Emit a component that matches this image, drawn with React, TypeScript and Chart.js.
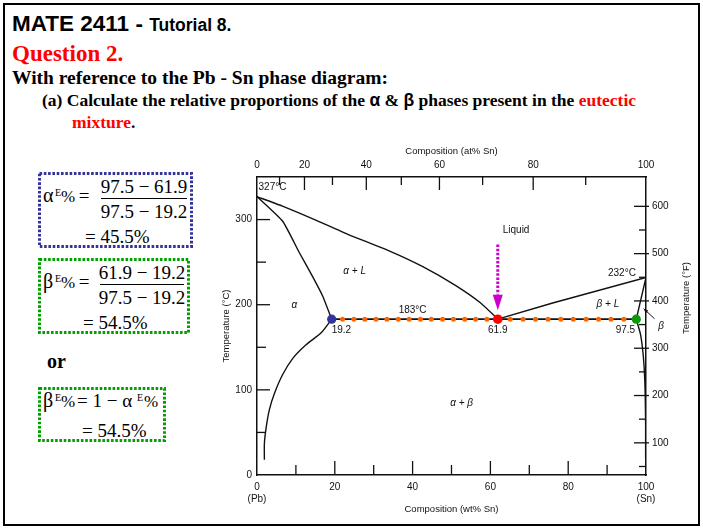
import React, { useEffect, useRef } from 'react';
import { Chart, registerables } from 'chart.js';

Chart.register(...registerables);

type Pt = [number, number];

// Pb–Sn phase boundaries: [composition (wt% Sn), temperature (°C)]
const liquidusLeft: Pt[] = [[0, 327], [6.4, 316], [14.8, 300], [23.2, 283], [34.1, 263], [42.5, 245], [50.9, 223], [57.5, 202], [61.9, 183]];
const solidusAlpha: Pt[] = [[0, 327], [6.6, 298], [10.9, 261], [14.3, 233], [16.9, 210], [19.2, 183]];
const solvusAlpha: Pt[] = [[19.2, 183], [16.5, 167], [12.6, 153], [9.2, 137], [6.6, 118], [4.5, 96], [3.2, 77], [2.4, 57], [1.9, 37], [1.9, 18]];
const liquidusRight: Pt[] = [[61.9, 183], [76, 202], [100, 232]];
const solidusBeta: Pt[] = [[100, 232], [97.5, 183]];
const solvusBeta: Pt[] = [[97.5, 183], [98.6, 165], [99.3, 140], [99.7, 110], [99.9, 60], [99.9, 20]];

// eutectic isotherm and the three compositions on it
const eutecticT = 183;
const alphaE = 19.2;
const eutecticC = 61.9;
const betaE = 97.5;
const pbMelt = 327;
const snMelt = 232;
const tieLineDots = [22.0, 24.9, 27.7, 30.6, 33.4, 36.3, 39.1, 42.0, 44.8, 47.7, 50.5, 53.4, 56.2, 59.1,
  65.1, 68.4, 71.6, 74.8, 78.1, 81.3, 84.6, 87.8, 91.0, 94.3];

// axes
const tempMin = 0;
const tempMax = 350;
const wtTickLabels = [0, 20, 40, 60, 80, 100];
const wtTickMarks = [10, 20, 30, 40, 50, 60, 70, 80, 90];
const atTicks = [0, 10, 20, 30, 40, 50, 60, 70, 80, 90, 100];
const atTickWt = [0, 5.8, 12.2, 19.4, 28.1, 37.1, 46.9, 58.0, 71.0, 84.5, 100];
const atTickLabels = [0, 20, 40, 60, 80, 100];
const celsiusTickLabels = [0, 100, 200, 300];
const celsiusTickMarks = [50, 100, 150, 200, 250, 300];
const fahrenheitTickLabels = [100, 200, 300, 400, 500, 600];
const fahrenheitTickMarks = [50, 100, 150, 200, 250, 300, 350, 400, 450, 500, 550, 600];

const sans = "'Liberation Sans', Arial, Helvetica, sans-serif";
const serif = "'Liberation Serif', 'Times New Roman', Times, serif";
const ink = '#111';
const toF = (c: number) => c * 1.8 + 32;

const diagramMarks = {
  id: 'diagramMarks',
  afterDraw(chart: any) {
    const { ctx } = chart;
    const { x, y, yF } = chart.scales;
    const X = (v: number) => x.getPixelForValue(v);
    const Y = (v: number) => y.getPixelForValue(v);
    const seg = (x1: number, y1: number, x2: number, y2: number) => {
      ctx.beginPath(); ctx.moveTo(x1, y1); ctx.lineTo(x2, y2); ctx.stroke();
    };
    ctx.save();
    ctx.strokeStyle = ink;
    ctx.lineWidth = 1.3;

    // inward tick marks
    wtTickMarks.forEach((v) => seg(X(v), y.bottom, X(v), y.bottom - (v % 20 === 0 ? 14 : 10)));
    atTicks.forEach((a, i) => {
      if (a === 0 || a === 100) return;
      const px = X(atTickWt[i]);
      seg(px, y.top, px, y.top + (a % 20 === 0 ? 13 : 8));
    });
    celsiusTickMarks.forEach((v) => seg(x.left, Y(v), x.left + (v % 100 === 0 ? 13 : 9), Y(v)));
    fahrenheitTickMarks.forEach((v) => {
      const py = yF.getPixelForValue(v);
      const major = v % 100 === 0;
      seg(x.right - (major ? 12 : 7), py, x.right + (major ? 3 : 0), py);
    });

    // region and point labels
    ctx.fillStyle = ink;
    ctx.textBaseline = 'middle';
    const label = (text: string, wx: number, t: number, align: CanvasTextAlign = 'center', italic = false) => {
      ctx.font = `${italic ? 'italic ' : ''}10px ${sans}`;
      ctx.textAlign = align;
      ctx.fillText(text, X(wx), Y(t));
    };
    label(`${pbMelt}°C`, 0.4, 338, 'left');
    label('α + L', 25.1, 239, 'center', true);
    label('α', 9.6, 199, 'center', true);
    label(`${eutecticT}°C`, 40, 193);
    label(String(alphaE), alphaE, 170.5, 'left');
    label(String(eutecticC), eutecticC, 170.5);
    label(String(betaE), 97.2, 170.5, 'right');
    label('β + L', 90.2, 200, 'center', true);
    label(`${snMelt}°C`, 97.4, 237.5, 'right');
    label('Liquid', 66.6, 288);
    label('α + β', 52.6, 84, 'center', true);
    label('β', 103.9, 175, 'center', true);

    // arrow pointing at the β solid solution
    const ax1 = X(102.2), ay1 = Y(183.5), ax2 = X(99.4), ay2 = Y(195.3);
    ctx.lineWidth = 1;
    seg(ax1, ay1, ax2, ay2);
    const ang = Math.atan2(ay2 - ay1, ax2 - ax1);
    ctx.beginPath();
    ctx.moveTo(ax2, ay2);
    ctx.lineTo(ax2 - 5 * Math.cos(ang - 0.4), ay2 - 5 * Math.sin(ang - 0.4));
    ctx.lineTo(ax2 - 5 * Math.cos(ang + 0.4), ay2 - 5 * Math.sin(ang + 0.4));
    ctx.closePath();
    ctx.fill();

    // right-hand axis title
    ctx.save();
    ctx.translate(466, 158);
    ctx.rotate(-Math.PI / 2);
    ctx.font = `9.5px ${sans}`;
    ctx.textAlign = 'center';
    ctx.fillText('Temperature (°F)', 0, 0);
    ctx.restore();

    // dotted arrow down to the eutectic point
    const ex = X(eutecticC);
    ctx.strokeStyle = '#cc00cc';
    ctx.fillStyle = '#cc00cc';
    ctx.lineWidth = 3;
    ctx.setLineDash([2.5, 1.6]);
    seg(ex, Y(270.6), ex, Y(212));
    ctx.setLineDash([]);
    ctx.beginPath();
    ctx.moveTo(ex - 5, Y(211.8));
    ctx.lineTo(ex + 5, Y(211.8));
    ctx.lineTo(ex, Y(193.5));
    ctx.closePath();
    ctx.fill();
    ctx.restore();
  },
};

function PhaseDiagram() {
  const ref = useRef<HTMLCanvasElement>(null);
  useEffect(() => {
    const toXY = (pts: Pt[]) => pts.map(([px, py]) => ({ x: px, y: py }));
    const curve = (pts: Pt[], tension = 0.2) => ({
      data: toXY(pts), showLine: true, borderColor: ink, borderWidth: 1.4,
      pointRadius: 0, fill: false, tension, order: 5,
    });
    const dot = (wx: number, color: string, r: number, order: number) => ({
      data: [{ x: wx, y: eutecticT }], backgroundColor: color, borderWidth: 0, pointRadius: r, order,
    });
    const tickFont = { family: sans, size: 10 };
    const titleFont = { family: sans, size: 9.5 };
    const chart = new Chart(ref.current as HTMLCanvasElement, {
      type: 'scatter',
      data: {
        datasets: [
          dot(alphaE, '#333399', 4.6, 0),
          dot(eutecticC, '#ff0000', 4.8, 0),
          dot(betaE, '#0a9a0a', 4.6, 0),
          {
            data: tieLineDots.map((v) => ({ x: v, y: eutecticT })),
            backgroundColor: '#ff6600', borderWidth: 0, pointRadius: 2.5, order: 1,
          },
          { ...curve([[alphaE, eutecticT], [betaE, eutecticT]], 0), borderWidth: 1.8, order: 2 },
          curve(liquidusLeft, 0.15),
          curve(solidusAlpha, 0.15),
          curve(solvusAlpha, 0.2),
          curve(liquidusRight, 0),
          curve(solidusBeta, 0),
          curve(solvusBeta, 0.2),
        ] as any,
      },
      options: {
        animation: false,
        responsive: false,
        devicePixelRatio: 1,
        events: [],
        layout: { padding: 0, autoPadding: false },
        plugins: { legend: { display: false }, tooltip: { enabled: false } },
        scales: {
          x: {
            type: 'linear', position: 'bottom', min: 0, max: 100,
            afterBuildTicks: (s: any) => { s.ticks = wtTickLabels.map((v) => ({ value: v })); },
            afterFit: (s: any) => { s.height = 53; },
            grid: { display: false, drawTicks: false },
            border: { display: true, color: ink, width: 1.5 },
            ticks: {
              color: ink, font: tickFont, padding: 6, maxRotation: 0, autoSkip: false,
              callback: (v: any) => (v === 0 ? ['0', '(Pb)'] : v === 100 ? ['100', '(Sn)'] : String(v)),
            },
            title: { display: true, text: 'Composition (wt% Sn)', color: ink, font: titleFont, padding: { top: 0, bottom: 13 } },
          },
          xTop: {
            type: 'linear', position: 'top', min: 0, max: 100,
            afterBuildTicks: (s: any) => {
              s.ticks = atTickLabels.map((a) => ({ value: atTickWt[atTicks.indexOf(a)] }));
            },
            afterFit: (s: any) => { s.height = 37; },
            grid: { display: false, drawTicks: false },
            border: { display: true, color: ink, width: 1.5 },
            ticks: {
              color: ink, font: tickFont, padding: 6, maxRotation: 0, autoSkip: false,
              callback: (_v: any, i: number) => String(atTickLabels[i]),
            },
            title: { display: true, text: 'Composition (at% Sn)', color: ink, font: titleFont, padding: { top: 6, bottom: 0 } },
          },
          y: {
            type: 'linear', position: 'left', min: tempMin, max: tempMax,
            afterBuildTicks: (s: any) => { s.ticks = celsiusTickLabels.map((v) => ({ value: v })); },
            afterFit: (s: any) => { s.width = 37; },
            grid: { display: false, drawTicks: false },
            border: { display: true, color: ink, width: 1.5 },
            ticks: { color: ink, font: tickFont, padding: 5 },
            title: { display: true, text: 'Temperature (°C)', color: ink, font: titleFont, padding: { top: 1, bottom: 0 } },
          },
          yF: {
            type: 'linear', position: 'right', min: toF(tempMin), max: toF(tempMax),
            afterBuildTicks: (s: any) => { s.ticks = fahrenheitTickLabels.map((v) => ({ value: v })); },
            afterFit: (s: any) => { s.width = 57; },
            grid: { display: false, drawTicks: false },
            border: { display: true, color: ink, width: 1.5 },
            ticks: { color: ink, font: tickFont, padding: 6 },
          },
        } as any,
      },
      plugins: [diagramMarks],
    });
    return () => chart.destroy();
  }, []);
  return (
    <canvas ref={ref} width={483} height={388}
      style={{ position: 'absolute', left: 220, top: 140, width: 483, height: 388 }} />
  );
}

type TxtProps = {
  x: number; base: number; size: number; family?: string; weight?: number;
  color?: string; center?: boolean; children: React.ReactNode;
};

function Txt({ x, base, size, family = serif, weight = 400, color = '#000', center, children }: TxtProps) {
  return (
    <div style={{
      position: 'absolute', left: x, top: base - size * 0.84, fontSize: size, lineHeight: 1,
      fontFamily: family, fontWeight: weight, color, whiteSpace: 'nowrap',
      transform: center ? 'translateX(-50%)' : undefined,
    }}>{children}</div>
  );
}

function Fraction({ cx, top, num, den, width }: { cx: number; top: number; num: string; den: string; width: number }) {
  return (
    <>
      <Txt x={cx} base={top + 21} size={19} center>{num}</Txt>
      <div style={{ position: 'absolute', left: cx - width / 2, top: top + 26, width, height: 1, background: '#000' }} />
      <Txt x={cx} base={top + 46} size={19} center>{den}</Txt>
    </>
  );
}

function Lhs({ x, base, greek }: { x: number; base: number; greek: string }) {
  return (
    <>
      <Txt x={x} base={base} size={20}>{greek}</Txt>
      <Txt x={x + 12} base={base - 6} size={10}>E</Txt>
      <Txt x={x + 18} base={base} size={17}>%</Txt>
    </>
  );
}

export default function App() {
  const blue = '#333399';
  const green = '#00a000';
  const red = '#ff0000';
  return (
    <div style={{ position: 'absolute', left: 0, top: 0, width: 703, height: 528, background: '#fff', overflow: 'hidden' }}>
      <div style={{ position: 'absolute', left: 3, top: 3, width: 697, height: 523, border: '2.5px solid #000', boxSizing: 'border-box' }} />

      <Txt x={12} base={31.5} size={22.5} family={sans} weight={700}>
        MATE 2411 - <span style={{ fontSize: 17.5 }}>Tutorial 8.</span>
      </Txt>
      <Txt x={12} base={61} size={23} weight={700} color={red}>Question 2.</Txt>
      <Txt x={12} base={84} size={19.5} weight={700}>With reference to the Pb - Sn phase diagram:</Txt>
      <Txt x={42} base={106.5} size={17.5} weight={700}>
        (a) Calculate the relative proportions of the <span style={{ fontFamily: sans }}>α</span> &amp;{' '}
        <span style={{ fontFamily: sans }}>β</span> phases present in the <span style={{ color: red }}>eutectic</span>
      </Txt>
      <Txt x={72} base={129} size={17.5} weight={700}>
        <span style={{ color: red }}>mixture</span>.
      </Txt>

      <svg width={703} height={528} style={{ position: 'absolute', left: 0, top: 0 }}>
        <rect x={39.5} y={173.5} width={152} height={73} fill="none" stroke={blue} strokeWidth={3} strokeDasharray="2.6 1.7" />
        <rect x={39.5} y={259.5} width={149} height={73} fill="none" stroke={green} strokeWidth={3} strokeDasharray="2.6 1.7" />
        <rect x={39.5} y={388.5} width={125} height={52} fill="none" stroke={green} strokeWidth={3} strokeDasharray="2.6 1.7" />
      </svg>

      <Lhs x={43} base={202} greek="α" />
      <Txt x={84} base={202} size={19} center>=</Txt>
      <Fraction cx={144} top={172} num={`${betaE} − ${eutecticC}`} den={`${betaE} − ${alphaE}`} width={86} />
      <Txt x={85} base={243} size={19}>= 45.5%</Txt>

      <Lhs x={43} base={288} greek="β" />
      <Txt x={84} base={288} size={19} center>=</Txt>
      <Fraction cx={142} top={258} num={`${eutecticC} − ${alphaE}`} den={`${betaE} − ${alphaE}`} width={84} />
      <Txt x={83} base={329} size={19}>= 54.5%</Txt>

      <Txt x={47} base={368} size={20} weight={700}>or</Txt>

      <Lhs x={43} base={407} greek="β" />
      <Txt x={77} base={407} size={19}>= 1 − α</Txt>
      <Txt x={137} base={401} size={10}>E</Txt>
      <Txt x={144} base={407} size={17}>%</Txt>
      <Txt x={82} base={436.5} size={19}>= 54.5%</Txt>

      <PhaseDiagram />
    </div>
  );
}
